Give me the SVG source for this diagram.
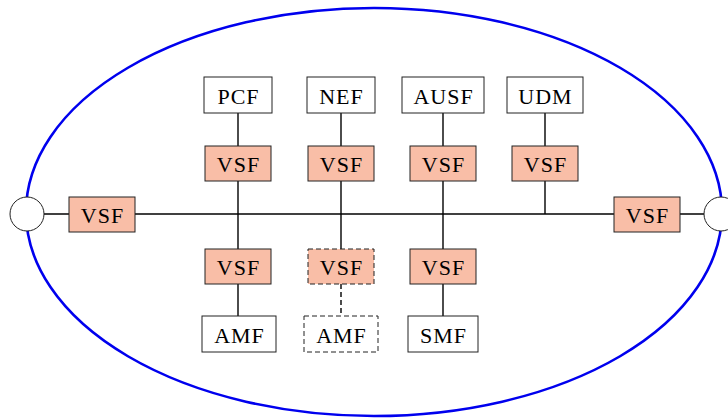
<svg xmlns="http://www.w3.org/2000/svg" width="728" height="419" viewBox="0 0 728 419">
<style>
.box{fill:#fff;stroke:#222;stroke-width:1}
.vsf{fill:#f9bea7;stroke:#222;stroke-width:1}
.dash{stroke-dasharray:5,3}
.ln{stroke:#000;stroke-width:1.4;fill:none}
.t{font-family:"Liberation Serif","Times New Roman",serif;font-size:22px;letter-spacing:1px;fill:#000;text-anchor:middle;dominant-baseline:central}
</style>
<rect width="728" height="419" fill="#fff"/>
<ellipse id="boundary" cx="374" cy="212" rx="348" ry="204" fill="none" stroke="#0000ee" stroke-width="2.6"/>
<g id="connectors">
<line class="ln" x1="44" y1="214" x2="704" y2="214"/>
<line class="ln" x1="238" y1="113" x2="238" y2="316"/>
<line class="ln" x1="341" y1="113" x2="341" y2="249"/>
<line class="ln dash" x1="341" y1="284" x2="341" y2="316"/>
<line class="ln" x1="443" y1="113" x2="443" y2="316"/>
<line class="ln" x1="545" y1="113" x2="545" y2="214"/>
</g>
<g id="portL"><circle cx="27" cy="214" r="17" fill="#fff" stroke="#222" stroke-width="1"/></g>
<g id="portR"><circle cx="721" cy="214" r="17" fill="#fff" stroke="#222" stroke-width="1"/></g>
<g id="vsfL"><rect class="vsf" x="69" y="197" width="66" height="35"/><text class="t" x="102.5" y="215">VSF</text></g>
<g id="vsfR"><rect class="vsf" x="614" y="197" width="66" height="35"/><text class="t" x="647.5" y="215">VSF</text></g>
<g id="pcf"><rect class="box" x="204" y="77" width="68" height="36"/><text class="t" x="238.5" y="96">PCF</text></g>
<g id="nef"><rect class="box" x="307" y="77" width="68" height="36"/><text class="t" x="341.5" y="96">NEF</text></g>
<g id="ausf"><rect class="box" x="402" y="77" width="82" height="36"/><text class="t" x="443.5" y="96">AUSF</text></g>
<g id="udm"><rect class="box" x="507" y="77" width="76" height="36"/><text class="t" x="545.5" y="96">UDM</text></g>
<g id="vsf1"><rect class="vsf" x="205" y="146" width="66" height="35"/><text class="t" x="238.5" y="164">VSF</text></g>
<g id="vsf2"><rect class="vsf" x="308" y="146" width="66" height="35"/><text class="t" x="341.5" y="164">VSF</text></g>
<g id="vsf3"><rect class="vsf" x="410" y="146" width="66" height="35"/><text class="t" x="443.5" y="164">VSF</text></g>
<g id="vsf4"><rect class="vsf" x="512" y="146" width="66" height="35"/><text class="t" x="545.5" y="164">VSF</text></g>
<g id="vsf5"><rect class="vsf" x="205" y="249" width="66" height="35"/><text class="t" x="238.5" y="267">VSF</text></g>
<g id="vsf6"><rect class="vsf dash" x="308" y="249" width="66" height="35"/><text class="t" x="341.5" y="267">VSF</text></g>
<g id="vsf7"><rect class="vsf" x="410" y="249" width="66" height="35"/><text class="t" x="443.5" y="267">VSF</text></g>
<g id="amf1"><rect class="box" x="202" y="316" width="74" height="36"/><text class="t" x="239.5" y="335">AMF</text></g>
<g id="amf2"><rect class="box dash" x="304" y="316" width="74" height="36"/><text class="t" x="341.5" y="335">AMF</text></g>
<g id="smf"><rect class="box" x="408" y="316" width="70" height="36"/><text class="t" x="443.5" y="335">SMF</text></g>
</svg>
